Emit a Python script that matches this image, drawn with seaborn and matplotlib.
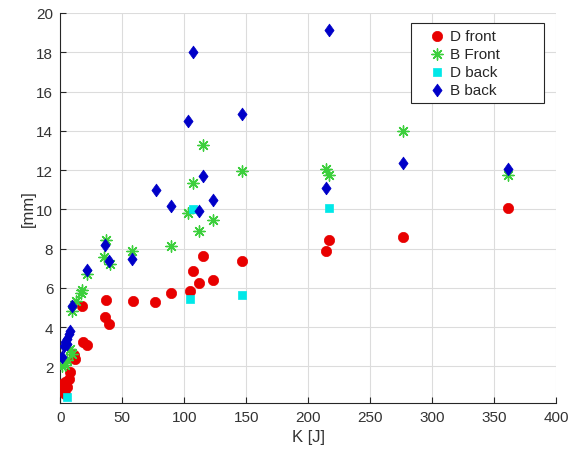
import numpy as np
import pandas as pd
import matplotlib
matplotlib.use("Agg")
import matplotlib.pyplot as plt
import seaborn as sns

# ---- data ----
d_front_x = [1.0, 1.4, 2.7, 4.0, 5.4, 4.0, 6.7, 8.1, 10.8, 12.1, 18.0, 21.5, 17.3,
             36.9, 36.0, 39.5, 58.4, 76.4, 89.0, 104.6, 106.8, 112.1, 115.3, 122.9,
             146.3, 214.3, 217.0, 276.6, 361.3]
d_front_y = [1.1, 1.0, 0.76, 0.6, 0.93, 1.18, 1.35, 1.7, 2.6, 2.37, 3.25, 3.1, 5.09,
             5.38, 4.5, 4.16, 5.31, 5.3, 5.75, 5.82, 6.87, 6.23, 7.6, 6.4,
             7.38, 7.86, 8.44, 8.57, 10.07]

b_front_x = [1.0, 2.7, 3.8, 5.4, 8.1, 9.4, 9.2, 12.7, 16.5, 17.3, 21.5, 35.2, 36.9,
             40.1, 57.6, 89.0, 102.7, 106.8, 111.9, 115.3, 122.9, 146.3, 214.3,
             217.0, 276.6, 361.3]
b_front_y = [2.0, 2.2, 2.05, 2.33, 2.88, 2.63, 4.84, 5.35, 5.75, 5.9, 6.7, 7.55, 8.43,
             7.2, 7.85, 8.14, 9.8, 11.32, 8.87, 13.27, 9.45, 11.95, 12.05,
             11.75, 14.0, 11.75]

d_back_x = [5.4, 104.6, 106.8, 146.3, 217.0]
d_back_y = [0.42, 5.43, 10.0, 5.65, 10.05]

b_back_x = [1.4, 2.7, 4.0, 5.4, 5.4, 6.7, 8.1, 9.7, 21.3, 36.0, 39.5, 58.1, 76.9,
            89.0, 102.7, 106.8, 111.9, 115.3, 122.9, 146.3, 214.3, 217.0, 276.6, 361.3]
b_back_y = [2.46, 3.05, 3.22, 3.14, 3.39, 3.65, 3.82, 5.09, 6.92, 8.18, 7.35, 7.46, 10.98,
            10.18, 14.48, 18.0, 9.9, 11.71, 10.47, 14.85, 11.07, 19.13, 12.34, 12.05]

x_ticks = [0, 50, 100, 150, 200, 250, 300, 350, 400]
y_ticks = [2, 4, 6, 8, 10, 12, 14, 16, 18, 20]

sns.set_style("whitegrid")
plt.rcParams["font.family"] = ["Liberation Sans", "DejaVu Sans"]

fig = plt.figure(figsize=(5.75, 4.52), dpi=100)
ax = fig.add_axes([60.3 / 575, 1 - 404 / 452, (556 - 60.3) / 575, (404 - 14) / 452])

red = "#e80000"
green = "#3ccf3c"
cyan = "#00e8e8"
blue = "#0000c8"

diamond = [(0, -1), (0.72, 0), (0, 1), (-0.72, 0), (0, -1)]

sns.scatterplot(x=d_front_x, y=d_front_y, ax=ax, marker="o", s=55, color=red,
                edgecolor=red, linewidth=0.5, label="D front", zorder=3)
sns.scatterplot(x=b_front_x, y=b_front_y, ax=ax, marker=(8, 2, 0), s=65,
                color=green, edgecolor=green, linewidth=1.0, label="B Front", zorder=4)
sns.scatterplot(x=d_back_x, y=d_back_y, ax=ax, marker="s", s=30, color=cyan,
                edgecolor=cyan, linewidth=0.5, label="D back", zorder=5)
sns.scatterplot(x=b_back_x, y=b_back_y, ax=ax, marker=diamond, s=85, color=blue,
                edgecolor=blue, linewidth=0.5, label="B back", zorder=6)

ax.set_xlim(0, 400)
ax.set_ylim(0.13, 20)
ax.set_xticks(x_ticks)
ax.set_yticks(y_ticks)
ax.grid(True, color="#dcdcdc", linewidth=0.8)
ax.set_axisbelow(True)
for side in ["top", "right"]:
    ax.spines[side].set_visible(False)
for side in ["left", "bottom"]:
    ax.spines[side].set_color("#262626")
    ax.spines[side].set_linewidth(0.8)
ax.tick_params(direction="in", length=4, width=0.8, colors="#262626",
               labelsize=11, labelcolor="#333333", left=True, bottom=True, pad=5)
ax.set_xlabel("K [J]", fontsize=12, color="#333333", labelpad=4)
ax.set_ylabel("[mm]", fontsize=12, color="#333333", labelpad=0.5)

leg = ax.legend(loc="upper left", bbox_to_anchor=(0.707, 0.774, 0.268, 0.2),
                mode="expand", frameon=True,
                fancybox=False, shadow=False, framealpha=1, edgecolor="#262626",
                fontsize=11, handlelength=2.6, handletextpad=-0.4,
                borderpad=0.4, labelspacing=0.25, borderaxespad=0)
leg.get_frame().set_linewidth(0.8)

fig.savefig("out.png", dpi=100)
